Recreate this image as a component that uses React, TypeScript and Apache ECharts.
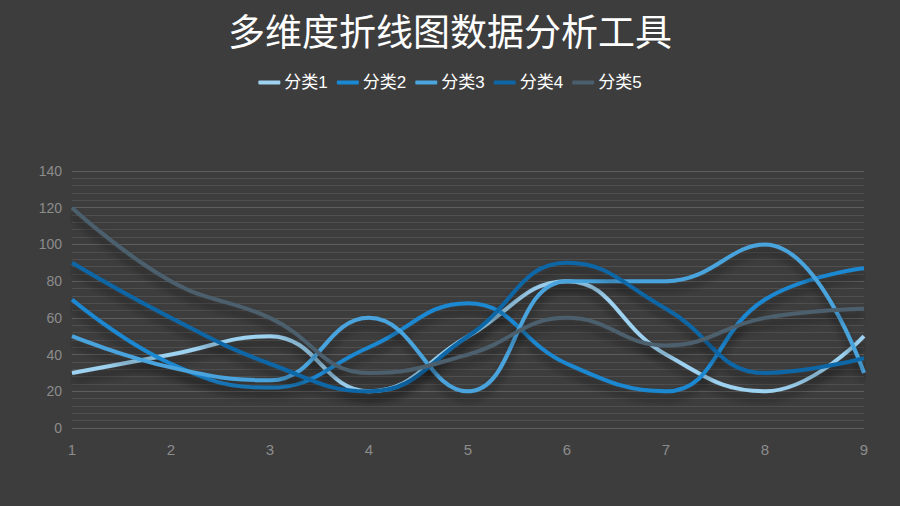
import { useEffect, useRef } from "react";
import * as echarts from "echarts";

const categories = ["1", "2", "3", "4", "5", "6", "7", "8", "9"];
const seriesNames = ["分类1", "分类2", "分类3", "分类4", "分类5"];
const series1 = [30, 40, 50, 20, 50, 80, 40, 20, 50];
const series2 = [70, 35, 22, 44, 68, 35, 20, 70, 87];
const series3 = [50, 33, 26, 60, 20, 80, 80, 100, 30];
const series4 = [90, 60, 35, 20, 50, 90, 65, 30, 38];
const series5 = [120, 80, 60, 30, 40, 60, 45, 60, 65];
const allSeries = [series1, series2, series3, series4, series5];
const colors = ["#9dd2f1", "#1a88d2", "#4aa4de", "#0f66a6", "#4b5e6d"];

const FONT = "'Liberation Sans', 'Noto Sans CJK SC', sans-serif";

export default function App() {
    const chartRef = useRef<HTMLDivElement | null>(null);

    useEffect(() => {
        if (!chartRef.current) return;
        document.body.style.margin = "0";
        const chart = echarts.init(chartRef.current, undefined, { renderer: "svg" });

        const option: echarts.EChartsOption = {
            animation: false,
            backgroundColor: "#3d3d3d",
            title: {
                text: "多维度折线图数据分析工具",
                left: "center",
                top: 10,
                textStyle: {
                    color: "#ffffff",
                    fontSize: 37,
                    fontWeight: "normal",
                    fontFamily: FONT,
                },
            },
            legend: {
                top: 69,
                left: "center",
                itemWidth: 22,
                itemHeight: 4,
                itemGap: 9,
                icon: "roundRect",
                data: seriesNames,
                textStyle: { color: "#ffffff", fontSize: 17, fontFamily: FONT, padding: [0, 0, 0, -1] },
            },
            grid: {
                left: 72,
                right: 36,
                top: 171,
                bottom: 78,
            },
            xAxis: {
                type: "category",
                data: categories,
                boundaryGap: false,
                axisLine: { show: false },
                axisTick: { show: false },
                axisLabel: { color: "#8c8c8c", fontSize: 15, margin: 14, fontFamily: FONT },
                splitLine: { show: false },
            },
            yAxis: {
                type: "value",
                min: 0,
                max: 140,
                interval: 20,
                axisLine: { show: false },
                axisTick: { show: false },
                axisLabel: { color: "#8c8c8c", fontSize: 14, margin: 10, fontFamily: FONT },
                splitLine: { lineStyle: { color: "#5e5e5e", width: 1 } },
                minorTick: { show: false, splitNumber: 5 },
                minorSplitLine: { show: true, lineStyle: { color: "#4f4f4f", width: 1 } },
            },
            series: allSeries.map((values, i) => ({
                name: seriesNames[i],
                type: "line",
                data: values,
                smooth: 0.45,
                symbol: "none",
                color: colors[i],
                lineStyle: {
                    color: colors[i],
                    width: 4,
                    shadowColor: "rgba(0,0,0,0.45)",
                    shadowBlur: 8,
                    shadowOffsetY: 7,
                },
            })),
        };

        chart.setOption(option);
        return () => {
            chart.dispose();
        };
    }, []);

    return <div ref={chartRef} style={{ position: "absolute", left: 0, top: 0, width: "900px", height: "506px" }} />;
}
